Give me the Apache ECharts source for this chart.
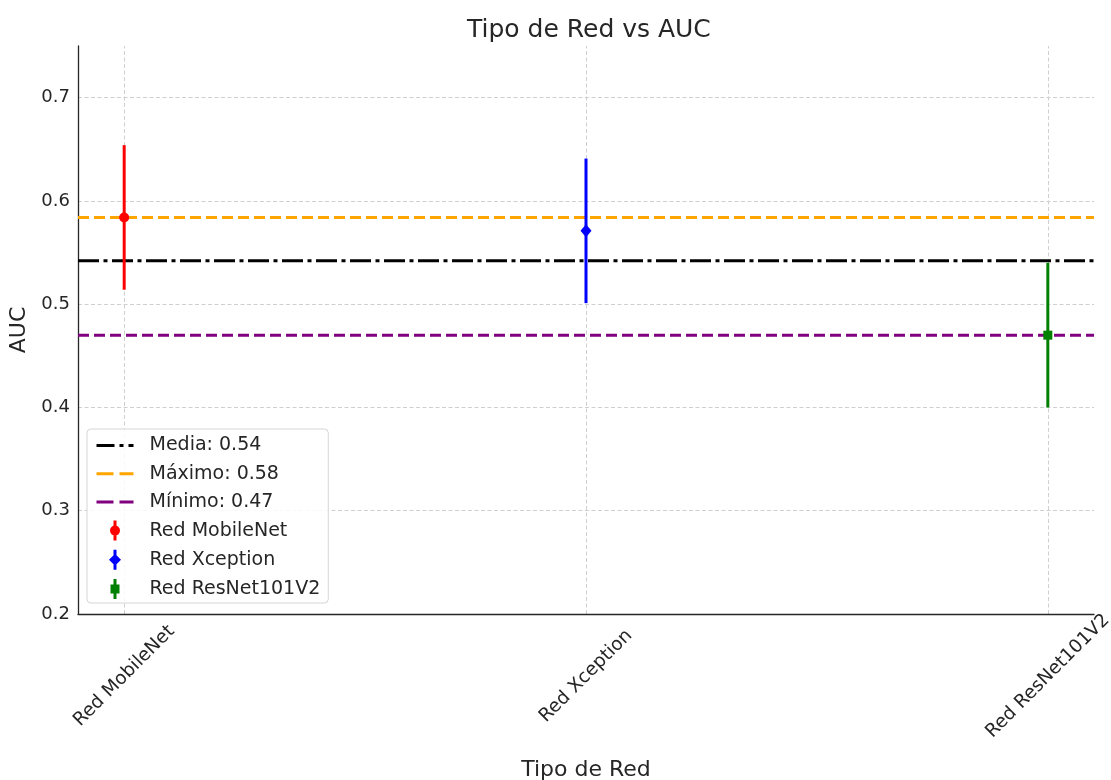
<!DOCTYPE html>
<html><head><meta charset="utf-8">
<script src="https://cdn.jsdelivr.net/npm/echarts@6/dist/echarts.min.js"></script>
<style>html,body{margin:0;padding:0;background:#fff;overflow:hidden}#c{width:1111px;height:780px}</style>
</head><body><div id="c"></div>
<script>
const categories = ['Red MobileNet', 'Red Xception', 'Red ResNet101V2'];
const aucMeans = [0.584, 0.571, 0.470];
const aucErrors = [0.070, 0.070, 0.070];
const refNames = ['Media: 0.54', 'Máximo: 0.58', 'Mínimo: 0.47'];
const refValues = [0.542, 0.584, 0.470];
const yTicks = [0.2, 0.3, 0.4, 0.5, 0.6, 0.7];
const xTicks = [0, 1, 2];

const seriesColors = ['#ff0000', '#0000ff', '#008000'];
const markerShapes = ['circle', 'diamond', 'square'];
const refColors = ['#000000', '#ffa500', '#800080'];
const refDash = [[21, 4.5, 4, 4.5], [11, 5], [11, 5]];
const legendDash = [[18, 5, 4, 5], [17, 6], [17, 6]];
const iconPaths = {
  circle: 'path://M3.5,0 H6.5 V20 H3.5 Z M0,10 A5,5 0 1,1 10,10 A5,5 0 1,1 0,10 Z',
  diamond: 'path://M3.5,0 H6.5 V20 H3.5 Z M5,4 L11,10 L5,16 L-1,10 Z',
  square: 'path://M3.5,0 H6.5 V20 H3.5 Z M0.5,5.5 H9.5 V14.5 H0.5 Z'
};
const TXT = '#262626';

function makeRender(shape) {
  return function (params, api) {
    const x = api.value(0), y = api.value(1), lo = api.value(2), hi = api.value(3);
    const c = api.coord([x, y]), pl = api.coord([x, lo]), ph = api.coord([x, hi]);
    const color = api.visual('color');
    const children = [{ type: 'rect', shape: { x: pl[0] - 1.5, y: ph[1], width: 3, height: pl[1] - ph[1] }, style: { fill: color, stroke: null } }];
    if (shape === 'circle') children.push({ type: 'circle', shape: { cx: c[0], cy: c[1], r: 5 }, style: { fill: color, stroke: null } });
    else if (shape === 'diamond') children.push({ type: 'polygon', shape: { points: [[c[0], c[1] - 6.5], [c[0] + 5.5, c[1]], [c[0], c[1] + 6.5], [c[0] - 5.5, c[1]]] }, style: { fill: color, stroke: null } });
    else children.push({ type: 'rect', shape: { x: c[0] - 4.5, y: c[1] - 4.5, width: 9, height: 9 }, style: { fill: color, stroke: null } });
    return { type: 'group', children: children };
  };
}

const series = [];
series.push({
  name: '_grid', type: 'line', data: [], silent: true, z: 0,
  markLine: {
    silent: true, symbol: 'none', label: { show: false }, animation: false, z: 0,
    lineStyle: { color: '#cfcfcf', width: 1, type: [4, 2.5] },
    data: xTicks.map(v => ({ xAxis: v })).concat(yTicks.slice(1).map(v => ({ yAxis: v })))
  }
});
refNames.forEach((n, i) => {
  series.push({
    name: n, type: 'line', symbol: 'none', z: 2,
    data: [[-0.1, refValues[i]], [2.1, refValues[i]]],
    lineStyle: { color: refColors[i], width: 3, type: refDash[i] },
    itemStyle: { color: refColors[i] }
  });
});
categories.forEach((n, i) => {
  series.push({
    name: n, type: 'custom', z: 3,
    renderItem: makeRender(markerShapes[i]),
    itemStyle: { color: seriesColors[i], borderWidth: 0 },
    encode: { x: 0, y: 1 },
    data: [[i, aucMeans[i], aucMeans[i] - aucErrors[i], aucMeans[i] + aucErrors[i]]]
  });
});

const chart = echarts.init(document.getElementById('c'), null, { renderer: 'canvas' });
chart.setOption({
  animation: false,
  backgroundColor: '#ffffff',
  textStyle: { fontFamily: 'DejaVu Sans' },
  title: {
    text: 'Tipo de Red vs AUC', left: 462, top: 13,
    textStyle: { fontSize: 25, fontWeight: 'normal', color: TXT, fontFamily: 'DejaVu Sans' }
  },
  grid: { left: 78, right: 17, top: 46, bottom: 166, containLabel: false, outerBoundsMode: 'none' },
  legend: {
    orient: 'vertical', left: 87, top: 429,
    padding: [7, 8, 4, 8], itemWidth: 37, itemHeight: 20, itemGap: 9.2,
    backgroundColor: 'rgba(255,255,255,0.85)', borderColor: '#d6d6d6', borderWidth: 1, borderRadius: 4,
    textStyle: { fontSize: 19, color: TXT, fontFamily: 'DejaVu Sans', padding: [0, 0, 0, 11] },
    data: refNames.map((n, i) => ({ name: n, itemStyle: { opacity: 0 }, lineStyle: { width: 3, type: legendDash[i], color: refColors[i] } }))
      .concat(categories.map((n, i) => ({ name: n, icon: iconPaths[markerShapes[i]] })))
  },
  xAxis: {
    type: 'value', min: -0.1, max: 2.1,
    name: 'Tipo de Red', nameLocation: 'middle', nameGap: 145,
    nameTextStyle: { fontSize: 22, color: TXT, fontFamily: 'DejaVu Sans' },
    axisLine: { show: true, onZero: false, lineStyle: { color: TXT, width: 1.3 } },
    axisTick: { show: false },
    splitLine: { show: false },
    axisLabel: {
      customValues: xTicks, rotate: 45, align: 'center', verticalAlign: 'middle', margin: 62,
      fontSize: 18.5, color: TXT, fontFamily: 'DejaVu Sans',
      formatter: v => categories[Math.round(v)]
    }
  },
  yAxis: {
    type: 'value', min: 0.2, max: 0.75,
    name: 'AUC', nameLocation: 'middle', nameGap: 43, nameRotate: 90,
    nameTextStyle: { fontSize: 22, color: TXT, fontFamily: 'DejaVu Sans' },
    axisLine: { show: true, onZero: false, lineStyle: { color: TXT, width: 1.3 } },
    axisTick: { show: false },
    splitLine: { show: false },
    axisLabel: {
      customValues: yTicks, margin: 8, fontSize: 18, color: TXT, fontFamily: 'DejaVu Sans',
      formatter: v => v.toFixed(1)
    }
  },
  series: series
});
</script></body></html>
